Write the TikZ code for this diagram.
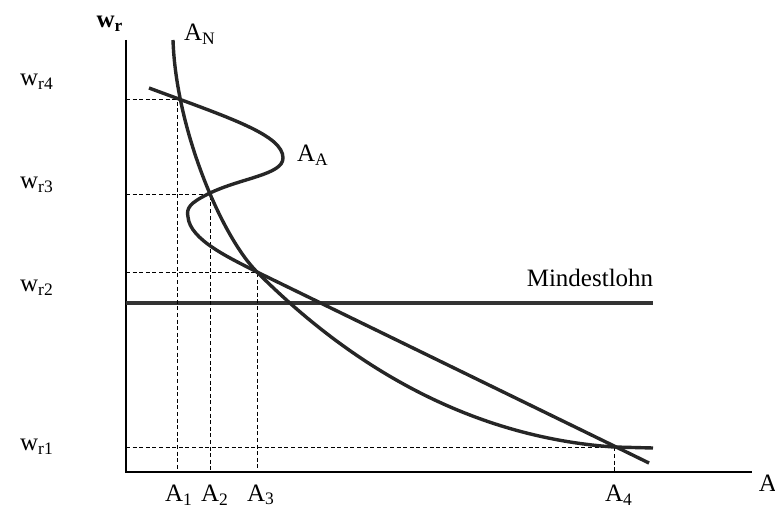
\documentclass[tikz,border=0pt]{standalone}
\usepackage{fontspec}
\setmainfont{Liberation Serif}

\begin{document}
\begin{tikzpicture}[x=0.5pt,y=-0.5pt,
	curve/.style={line width=1.7pt,black!85},
	guide/.style={line width=0.5pt,dash pattern=on 2pt off 1.3pt},
	every node/.style={font=\fontsize{12.5}{15}\selectfont}]
\useasboundingbox (0,0) rectangle (775,508);

% axes
\coordinate (o) at (126,472);
\draw[line width=1pt] (126,40) -- (o) -- (752,472);
\node (wr) at (110,24) {\textbf{w\textsubscript{r}}};
\node (A) at (768,483) {A};

% minimum wage
\draw[line width=1.6pt,black!80] (126,303) -- (653,303);
\node (ml) at (590,278) {Mindestlohn};

% dashed lines down to the intersections
\foreach \x/\y/\a/\w/\ax/\wy in {177/100/1/4/179/82, 210/194/2/3/215/185, 257/272/3/2/261/288, 614/447/4/1/619/447}{
	\coordinate (p\a) at (\x,\y);
	\draw[guide] (126,\y) -- (p\a) -- (\x,472);
	\node (A\a) at (\ax,495) {A\textsubscript{\a}};
	\node (w\w) at (37,\wy) {w\textsubscript{r\w}};
}

% labour demand
\draw[curve] (173,40) .. controls (176,130) and (222,237) .. (p3)
	.. controls (320,335) and (440,435) .. (614,447) -- (653,448);
\node (AN) at (200,34) {A\textsubscript{N}};

% labour supply
\draw[curve] (149,88) .. controls (230,118) and (283,135) .. (283,158)
	.. controls (283,175) and (240,178) .. (208,194)
	.. controls (190,203) and (186,208) .. (188,217)
	.. controls (190,240) and (230,258) .. (p3)
	-- (649,463);
\node (AA) at (313,155) {A\textsubscript{A}};

\end{tikzpicture}
\end{document}
